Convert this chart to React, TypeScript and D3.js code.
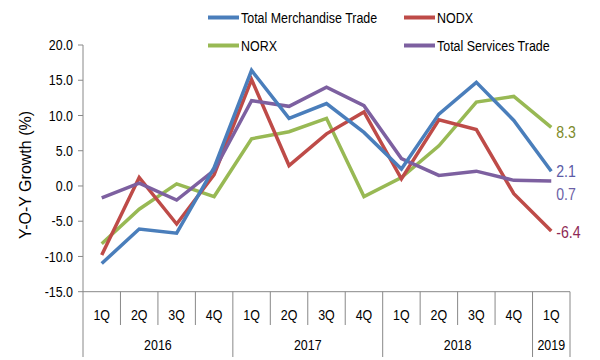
import React from "react";
import * as d3 from "d3";

const quarters = ["1Q","2Q","3Q","4Q","1Q","2Q","3Q","4Q","1Q","2Q","3Q","4Q","1Q"];
const years = [
  { label: "2016", start: 0, end: 4 },
  { label: "2017", start: 4, end: 8 },
  { label: "2018", start: 8, end: 12 },
  { label: "2019", start: 12, end: 13 },
];
const merchandise = [-11.0, -6.1, -6.7, 2.6, 16.4, 9.6, 11.7, 7.6, 2.4, 10.2, 14.7, 9.3, 2.1];
const nodx = [-9.8, 1.2, -5.4, 1.6, 15.1, 2.9, 7.4, 10.5, 1.0, 9.4, 8.0, -1.1, -6.4];
const norx = [-8.2, -3.3, 0.3, -1.5, 6.7, 7.7, 9.6, -1.5, 1.2, 5.7, 11.9, 12.7, 8.3];
const services = [-1.7, 0.4, -2.0, 2.2, 12.1, 11.3, 14.0, 11.4, 3.9, 1.5, 2.1, 0.8, 0.7];
const yTicks = [20, 15, 10, 5, 0, -5, -10, -15];

const series = [
  { name: "Total Merchandise Trade", values: merchandise, color: "#4a7ebb", labelColor: "#5b5ba6" },
  { name: "NODX", values: nodx, color: "#be4b48", labelColor: "#8e2a55" },
  { name: "NORX", values: norx, color: "#98b954", labelColor: "#7d8a2a" },
  { name: "Total Services Trade", values: services, color: "#7d60a0", labelColor: "#6b5fa6" },
];

const font = "'Liberation Sans', Arial, sans-serif";
const SX = 0.83;

function NText(props: { x: number; y: number; anchor?: "start" | "middle" | "end"; size?: number; fill?: string; dy?: string; children: React.ReactNode }) {
  const { x, y, anchor = "start", size = 15, fill = "#000", dy, children } = props;
  return (
    <text transform={`translate(${x},${y}) scale(${SX},1)`} textAnchor={anchor} dy={dy} fontFamily={font} fontSize={size} fill={fill}>
      {children}
    </text>
  );
}

export default function App() {
  const W = 600, H = 360;
  const left = 83, right = 570, top = 45, bottom = 291.7;
  const band = d3.scaleBand<number>().domain(d3.range(quarters.length)).range([left, right]).padding(0);
  const y = d3.scaleLinear().domain([-15, 20]).range([bottom, top]);
  const cx = (i: number) => (band(i) as number) + band.bandwidth() / 2;
  const line = d3.line<number>().x((_, i) => cx(i)).y((v) => y(v));

  const legend = [
    { s: series[0], x: 208, y: 17.5 },
    { s: series[1], x: 404, y: 17.5 },
    { s: series[2], x: 208, y: 45.5 },
    { s: series[3], x: 404, y: 45.5 },
  ];

  const endLabels = [
    { s: series[2], dy: 5 },
    { s: series[0], dy: 0 },
    { s: series[3], dy: 13 },
    { s: series[1], dy: 1 },
  ];

  return (
    <svg width={W} height={H} style={{ position: "absolute", left: 0, top: 0, background: "#fff" }}>
      <line x1={left} x2={left} y1={top} y2={357} stroke="#888" strokeWidth={1} />
      {yTicks.map((t) => (
        <g key={t}>
          <line x1={left - 5} x2={left} y1={y(t)} y2={y(t)} stroke="#888" />
          <NText x={left - 10} y={y(t)} dy="0.35em" anchor="end">{t.toFixed(1)}</NText>
        </g>
      ))}
      <line x1={left} x2={right} y1={bottom} y2={bottom} stroke="#888" />
      {quarters.map((q, i) => {
        const x0 = band(i) as number;
        const isYearStart = years.some((yr) => yr.start === i);
        return (
          <g key={i}>
            {i > 0 && (
              <line x1={x0} x2={x0} y1={bottom} y2={isYearStart ? 357 : 325} stroke="#888" />
            )}
            <NText x={cx(i)} y={320} anchor="middle">{q}</NText>
          </g>
        );
      })}
      <line x1={right} x2={right} y1={bottom} y2={357} stroke="#888" />
      {years.map((yr) => {
        const x0 = band(yr.start) as number;
        const x1 = yr.end >= quarters.length ? right : (band(yr.end) as number);
        return (
          <NText key={yr.label} x={(x0 + x1) / 2} y={350} anchor="middle">{yr.label}</NText>
        );
      })}
      <text transform={`translate(31,175) rotate(-90)`} textAnchor="middle" fontFamily={font} fontSize={16} fill="#000">
        Y-O-Y Growth (%)
      </text>
      {[series[2], series[1], series[3], series[0]].map((s) => (
        <path key={s.name} d={line(s.values) || ""} fill="none" stroke={s.color} strokeWidth={3.5} strokeLinejoin="miter" />
      ))}
      {endLabels.map(({ s, dy }) => {
        const last = s.values[s.values.length - 1];
        return (
          <NText key={s.name} x={cx(quarters.length - 1) + 5} y={y(last) + dy} dy="0.35em" size={17} fill={s.labelColor}>
            {last.toFixed(1)}
          </NText>
        );
      })}
      {legend.map(({ s, x, y: ly }) => (
        <g key={s.name}>
          <line x1={x} x2={x + 31} y1={ly} y2={ly} stroke={s.color} strokeWidth={4} />
          <NText x={x + 33} y={ly} dy="0.35em">{s.name}</NText>
        </g>
      ))}
    </svg>
  );
}
